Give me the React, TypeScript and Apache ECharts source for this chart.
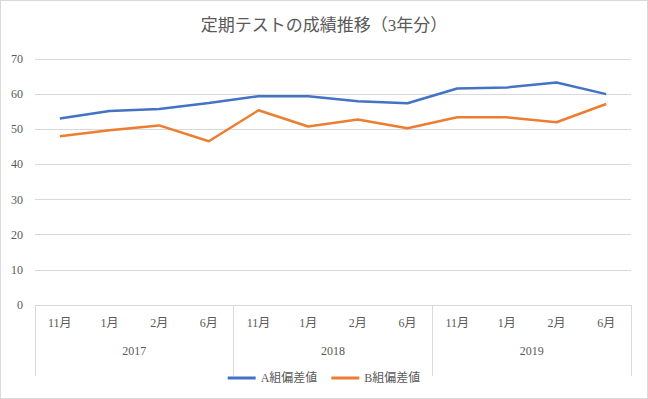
import React, { useEffect, useRef } from "react";
import * as echarts from "echarts";

const months = ["11月", "1月", "2月", "6月", "11月", "1月", "2月", "6月", "11月", "1月", "2月", "6月"];
const years = ["2017", "2018", "2019"];
const seriesAName = "A組偏差値";
const seriesBName = "B組偏差値";
const seriesA = [53.1, 55.2, 55.8, 57.5, 59.4, 59.4, 58.0, 57.4, 61.6, 61.9, 63.3, 60.0];
const seriesB = [48.0, 49.7, 51.1, 46.6, 55.4, 50.8, 52.8, 50.3, 53.4, 53.4, 52.0, 57.2];

const FONT = "'Liberation Serif', 'Noto Sans CJK JP', serif";
const TXT = "#595959";
const GRID = "#d9d9d9";

export default function App() {
  const ref = useRef<HTMLDivElement>(null);
  useEffect(() => {
    document.body.style.margin = "0";
    const chart = echarts.init(ref.current!, null, { renderer: "svg" });
    chart.setOption({
      animation: false,
      textStyle: { fontFamily: FONT },
      title: {
        text: "定期テストの成績推移（3年分）",
        left: "center",
        top: 11,
        textStyle: { fontFamily: FONT, fontSize: 17, fontWeight: "normal", color: TXT },
      },
      legend: {
        bottom: 9,
        left: "center",
        icon: "rect",
        itemWidth: 28,
        itemHeight: 3,
        itemGap: 14,
        textStyle: { fontFamily: FONT, fontSize: 12, color: TXT },
        data: [seriesAName, seriesBName],
      },
      grid: { left: 34, right: 16, top: 58, bottom: 93 },
      xAxis: [
        {
          type: "category",
          data: months,
          boundaryGap: true,
          axisLine: { show: true, lineStyle: { color: GRID, width: 1 } },
          axisTick: { show: false },
          axisLabel: { margin: 12, fontSize: 12, color: TXT, fontFamily: FONT, interval: 0 },
        },
        {
          type: "category",
          data: years,
          position: "bottom",
          boundaryGap: true,
          axisLine: { show: false },
          axisTick: { show: true, length: 71, lineStyle: { color: GRID, width: 1 } },
          axisLabel: { margin: 40, fontSize: 12, color: TXT, fontFamily: FONT, interval: 0 },
        },
      ],
      yAxis: {
        type: "value",
        min: 0,
        max: 70,
        interval: 10,
        axisLine: { show: false },
        axisTick: { show: false },
        axisLabel: { fontSize: 12, color: TXT, fontFamily: FONT, margin: 12 },
        splitLine: { lineStyle: { color: GRID, width: 1 } },
      },
      series: [
        {
          name: seriesAName,
          type: "line",
          data: seriesA,
          showSymbol: false,
          symbol: "none",
          itemStyle: { color: "#4472C4" },
          lineStyle: { color: "#4472C4", width: 2.5 },
        },
        {
          name: seriesBName,
          type: "line",
          data: seriesB,
          showSymbol: false,
          symbol: "none",
          itemStyle: { color: "#ED7D31" },
          lineStyle: { color: "#ED7D31", width: 2.5 },
        },
      ],
    });
    return () => chart.dispose();
  }, []);
  return (
    <div
      ref={ref}
      style={{ width: 648, height: 399, border: "1px solid #d9d9d9", boxSizing: "border-box" }}
    />
  );
}
